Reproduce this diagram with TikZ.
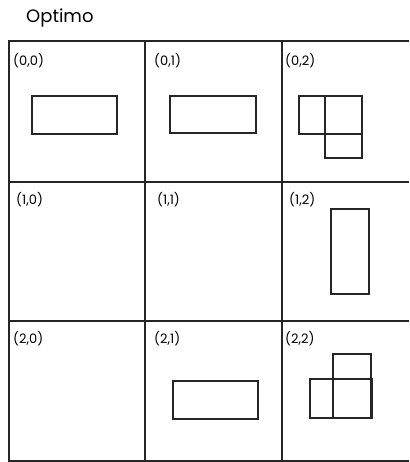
\documentclass[tikz,border=0pt]{standalone}
\usepackage{fontspec}
\setmainfont{Poppins}
\begin{document}
\begin{tikzpicture}[x=1pt,y=-1pt,
  gridline/.style={line width=1.3pt,black!85},
  piece/.style={line width=1.1pt,black!85},
  lbl/.style={anchor=west,inner sep=0pt,font=\fontsize{13}{14}\selectfont},
  ttl/.style={anchor=west,inner sep=0pt,font=\fontsize{18}{20}\selectfont}]
\useasboundingbox (0,0) rectangle (409,462);
\node[ttl] (title) at (26,18) {Optimo};
% grid
\draw[gridline] (409,41) -- (9,41) -- (9,462);
\draw[gridline] (145,41) -- (145,462);
\draw[gridline] (282,41) -- (282,462);
\draw[gridline] (9,182) -- (409,182);
\draw[gridline] (9,321) -- (409,321);
\draw[gridline] (9,461) -- (409,461);
% labels
\node[lbl] (c00) at (13,61) {(0,0)};
\node[lbl] (c01) at (154,61) {(0,1)};
\node[lbl] (c02) at (285,61) {(0,2)};
\node[lbl] (c10) at (16,200) {(1,0)};
\node[lbl] (c11) at (157,200) {(1,1)};
\node[lbl] (c12) at (289,200) {(1,2)};
\node[lbl] (c20) at (13,339) {(2,0)};
\node[lbl] (c21) at (154,339) {(2,1)};
\node[lbl] (c22) at (285,339) {(2,2)};
% pieces
\draw[piece] (32,96) rectangle (117,134);
\draw[piece] (170,96) rectangle (256,133);
\draw[piece] (299,96) rectangle (362,134);
\draw[piece] (325,96) rectangle (362,158);
\draw[piece] (331,209) rectangle (369,294);
\draw[piece] (173,381) rectangle (258,419);
\draw[piece] (333,354) rectangle (371,418);
\draw[piece] (310,379) rectangle (372,418);
\end{tikzpicture}
\end{document}
